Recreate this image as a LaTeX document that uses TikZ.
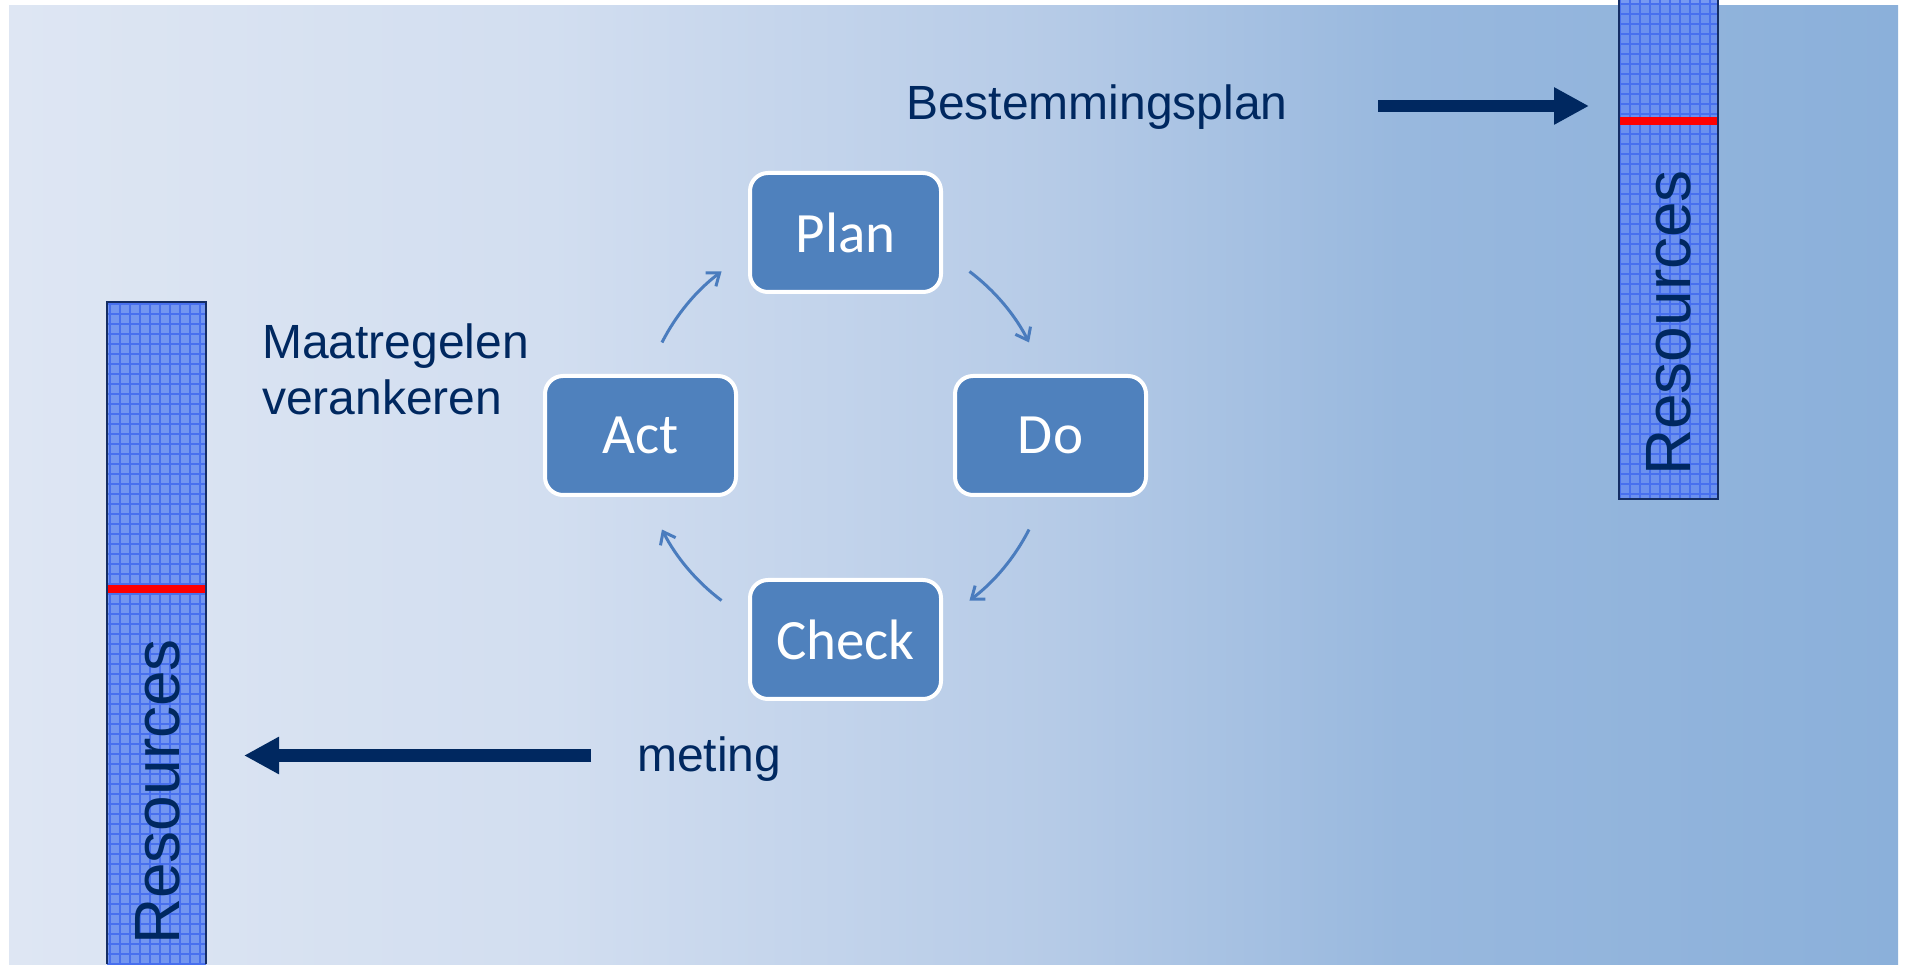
\documentclass[tikz,border=0pt]{standalone}
\usepackage{fontspec}
\setmainfont{Liberation Sans}
\newfontfamily\boxfont{Carlito}
\usetikzlibrary{arrows.meta}

\definecolor{navy}{RGB}{0,40,96}
\definecolor{boxblue}{RGB}{79,129,189}
\definecolor{arcblue}{RGB}{74,124,190}
\definecolor{barblue}{RGB}{104,142,240}
\definecolor{gridblue}{RGB}{72,112,238}
\definecolor{barline}{RGB}{20,45,100}
\definecolor{bgA}{RGB}{222,230,243}
\definecolor{bgB}{RGB}{210,222,240}
\definecolor{bgC}{RGB}{182,203,231}
\definecolor{bgD}{RGB}{152,184,222}
\definecolor{bgE}{RGB}{139,176,218}

\tikzset{
  pdca/.style={draw=white, line width=4pt, fill=boxblue, rounded corners=18pt,
    minimum width=191pt, minimum height=119pt, inner sep=0pt, text=white,
    font=\boxfont\fontsize{57}{62}\selectfont},
  lbl/.style={inner sep=0pt, text=navy, font=\fontsize{48}{56}\selectfont},
  restext/.style={inner sep=0pt, text=navy, rotate=90, font=\fontsize{64}{70}\selectfont},
  cycarrow/.style={draw=arcblue, line width=3pt, -{Straight Barb[length=11pt,width=17pt]}},
  bigarrow/.style={draw=navy, line width=12pt, -{Triangle[length=35pt,width=35pt]}},
  barside/.style={draw=barline, line width=2pt},
  redmark/.style={draw=red, line width=8pt}
}

\begin{document}
\begin{tikzpicture}[x=1pt,y=1pt]
\useasboundingbox (0,0) rectangle (1905,964);

% background gradient, left to right
\shade[left color=bgA, right color=bgB] (9,0) rectangle (551,958);
\shade[left color=bgB, right color=bgC] (550,0) rectangle (1051,958);
\shade[left color=bgC, right color=bgD] (1050,0) rectangle (1401,958);
\shade[left color=bgD, right color=bgE] (1400,0) rectangle (1898,958);

% left resource bar
\begin{scope}
  \clip (107,0) rectangle (206,662);
  \fill[barblue, fill opacity=0.9] (107,0) rectangle (206,662);
  \draw[gridblue, line width=1.2pt, step=10] (100,0) grid (210,670);
\end{scope}
\draw[barside] (107,0) -- (107,662) -- (206,662) -- (206,0);
\draw[redmark] (108,374.7) -- (205,374.7);
\node[restext] (resL) at (157.5,172) {Resources};

% right resource bar
\begin{scope}
  \clip (1619,465) rectangle (1718,964);
  \fill[barblue, fill opacity=0.9] (1619,465) rectangle (1718,964);
  \draw[gridblue, line width=1.2pt, step=10] (1610,460) grid (1720,970);
\end{scope}
\draw[barside] (1619,964) -- (1619,465) -- (1718,465) -- (1718,964);
\draw[redmark] (1620,842.5) -- (1717,842.5);
\node[restext] (resR) at (1669,641) {Resources};

% PDCA cycle
\coordinate (cyc) at (845.5,528);
\node[pdca] (plan)  at (845.5,731.5) {Plan};
\node[pdca] (do)    at (1050.5,528.5) {Do};
\node[pdca] (check) at (845.5,324.5) {Check};
\node[pdca] (act)   at (640.5,528.5) {Act};

\draw[cycarrow] ([shift={(153:206)}]cyc) arc[start angle=153, end angle=127, radius=206];
\draw[cycarrow] ([shift={(53:206)}]cyc) arc[start angle=53, end angle=27, radius=206];
\draw[cycarrow] ([shift={(-27:206)}]cyc) arc[start angle=-27, end angle=-53, radius=206];
\draw[cycarrow] ([shift={(233:206)}]cyc) arc[start angle=233, end angle=207, radius=206];

% labels
\node[lbl, anchor=base west] (best) at (906,844) {Bestemmingsplan};
\node[lbl, anchor=base west] (maat1) at (262,605) {Maatregelen};
\node[lbl, anchor=base west] (maat2) at (262,549) {verankeren};
\node[lbl, anchor=base west] (meting) at (637,193) {meting};

% thick arrows
\coordinate (bestFrom) at (1378,858);
\coordinate (bestTo) at (1589,858);
\draw[bigarrow] (bestFrom) -- (bestTo);
\coordinate (metFrom) at (591,208.5);
\coordinate (metTo) at (244,208.5);
\draw[bigarrow] (metFrom) -- (metTo);
\end{tikzpicture}
\end{document}
